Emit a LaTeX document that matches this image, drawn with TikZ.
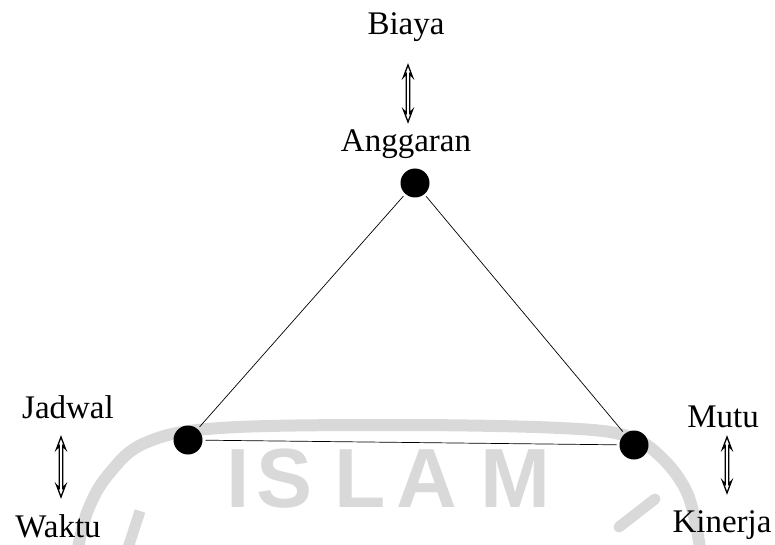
\documentclass[tikz,border=0pt]{standalone}
\usepackage{fontspec}
\setmainfont{Liberation Serif}
\newfontfamily\wmfont{Liberation Sans}
\begin{document}
\begin{tikzpicture}[x=1pt,y=-1pt,
  lbl/.style={anchor=base,inner sep=0pt,font=\fontsize{33}{36}\selectfont},
  dot/.style={circle,fill=black,minimum size=29pt,inner sep=0pt,outer sep=3pt},
  edge/.style={line width=0.7pt},
  wm/.style={draw=gray!30,line width=12pt},
  wml/.style={anchor=base,inner sep=0pt,text=gray!30,font=\wmfont\bfseries\fontsize{84}{90}\selectfont},
  hollow/.pic={\draw[line width=1.3pt,line join=miter]
     (0,-#1) -- (4.5,-#1+12) -- (1.8,-#1+9) -- (1.8,#1-9) -- (4.5,#1-12) -- (0,#1)
     -- (-4.5,#1-12) -- (-1.8,#1-9) -- (-1.8,-#1+9) -- (-4.5,-#1+12) -- cycle;}]
\useasboundingbox (0,0) rectangle (775,545);
% watermark
\draw[wm] plot[smooth,tension=0.6] coordinates {(78,548) (88,510) (108,475) (145,443) (220,428) (400,425) (560,428) (627,436) (662,458) (688,495) (700,548)};
\draw[wm,line width=11pt] (140,511) -- (128,548);
\draw[wm,line width=11pt,line cap=round] (655,499) -- (619,527);
\node[wml] (wI) at (238,507) {I};
\node[wml] (wS) at (285,507) {S};
\node[wml] (wL) at (360,507) {L};
\node[wml] (wA) at (427,507) {A};
\node[wml] (wM) at (515,507) {M};
% labels
\node[lbl] (biaya) at (406,35) {Biaya};
\node[lbl] (angg) at (406,152) {Anggaran};
\node[lbl] (jadwal) at (68,418) {Jadwal};
\node[lbl] (waktu) at (58,537) {Waktu};
\node[lbl] (mutu) at (723,427) {Mutu};
\node[lbl] (kinerja) at (722,532) {Kinerja};
% dots
\node[dot] (top) at (415,183) {};
\node[dot] (left) at (188,440) {};
\node[dot] (right) at (634,445) {};
% triangle
\draw[edge] (top) -- (left);
\draw[edge] (top) -- (right);
\draw[edge] (left) -- (right);
% hollow double arrows
\pic at (408,93.5) {hollow=28.5};
\pic at (61,467) {hollow=30};
\pic at (727,465) {hollow=28};
\end{tikzpicture}
\end{document}
